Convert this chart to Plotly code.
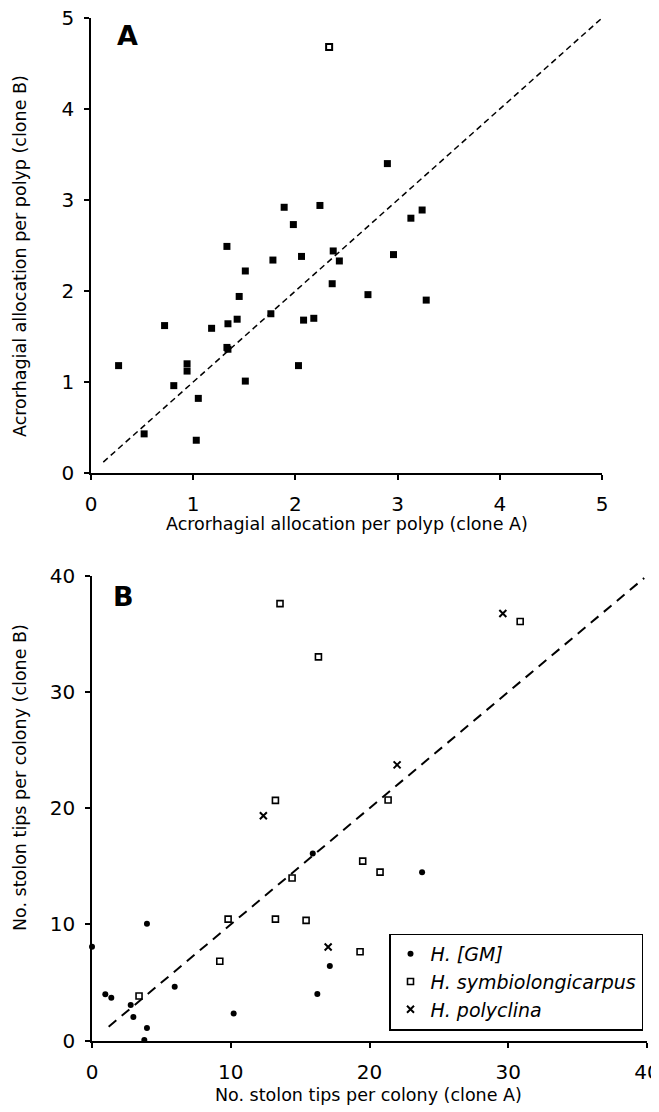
import plotly.graph_objects as go

# Browser page has an 8px body margin; size the figure to fit and offset coordinates.
PAGE_MARGIN = 8
W, H = 659 - PAGE_MARGIN, 1112 - PAGE_MARGIN

# ---------------- Panel A data ----------------
a_clone_a = [0.27, 0.52, 0.72, 0.81, 0.94, 0.94, 1.05, 1.03, 1.18, 1.33, 1.34, 1.34, 1.43, 1.45,
             1.51, 1.51, 1.76, 1.78, 2.03, 2.06, 2.08, 2.18, 1.33, 1.89, 1.98, 2.24, 2.90, 3.24,
             3.13, 2.37, 2.43, 2.96, 2.36, 2.71, 3.28]
a_clone_b = [1.18, 0.43, 1.62, 0.96, 1.20, 1.12, 0.82, 0.36, 1.59, 1.38, 1.36, 1.64, 1.69, 1.94,
             2.22, 1.01, 1.75, 2.34, 1.18, 2.38, 1.68, 1.70, 2.49, 2.92, 2.73, 2.94, 3.40, 2.89,
             2.80, 2.44, 2.33, 2.40, 2.08, 1.96, 1.90]
a_open_x = [2.33]
a_open_y = [4.68]
a_line_x = [0.12, 5.0]
a_line_y = [0.12, 5.0]
a_ticks = [0, 1, 2, 3, 4, 5]

# ---------------- Panel B data ----------------
gm_x = [0, 0.96, 1.39, 2.79, 2.98, 3.96, 3.96, 3.77, 5.96, 10.21, 15.91, 16.24, 17.14, 23.79]
gm_y = [8.08, 4.0, 3.70, 3.07, 2.04, 10.06, 1.09, 0.06, 4.64, 2.35, 16.11, 4.01, 6.42, 14.5]
sym_x = [3.39, 9.21, 9.81, 13.22, 14.42, 15.43, 19.51, 20.76, 19.32, 13.55, 16.32, 13.22, 30.86, 21.34]
sym_y = [3.84, 6.83, 10.46, 10.46, 13.99, 10.35, 15.45, 14.5, 7.65, 37.6, 33.02, 20.67, 36.06, 20.7]
poly_x = [12.35, 29.61, 21.99, 17.02]
poly_y = [19.35, 36.75, 23.73, 8.06]
b_line_x = [1.2, 39.8]
b_line_y = [1.2, 39.8]
b_ticks = [0, 10, 20, 30, 40]

FONT = "DejaVu Sans"

fig = go.Figure()

# Panel A
fig.add_trace(go.Scatter(x=a_line_x, y=a_line_y, mode="lines", xaxis="x", yaxis="y",
                         line=dict(color="black", width=1.5, dash="6px,4px"), showlegend=False,
                         hoverinfo="skip"))
fig.add_trace(go.Scatter(x=a_clone_a, y=a_clone_b, mode="markers", xaxis="x", yaxis="y",
                         marker=dict(symbol="square", size=7, color="black"), showlegend=False,
                         cliponaxis=False))
fig.add_trace(go.Scatter(x=a_open_x, y=a_open_y, mode="markers", xaxis="x", yaxis="y",
                         marker=dict(symbol="square-open", size=6, color="black", line=dict(width=2)),
                         showlegend=False, cliponaxis=False))

# Panel B
fig.add_trace(go.Scatter(x=b_line_x, y=b_line_y, mode="lines", xaxis="x2", yaxis="y2",
                         line=dict(color="black", width=2, dash="10px,7px"), showlegend=False,
                         hoverinfo="skip"))
fig.add_trace(go.Scatter(x=gm_x, y=gm_y, mode="markers", xaxis="x2", yaxis="y2", name="<i>H. [GM]</i>",
                         marker=dict(symbol="circle", size=6, color="black"), cliponaxis=False))
fig.add_trace(go.Scatter(x=sym_x, y=sym_y, mode="markers", xaxis="x2", yaxis="y2",
                         name="<i>H. symbiolongicarpus</i>",
                         marker=dict(symbol="square-open", size=6, color="black", line=dict(width=1.6)),
                         cliponaxis=False))
fig.add_trace(go.Scatter(x=poly_x, y=poly_y, mode="markers", xaxis="x2", yaxis="y2",
                         name="<i>H. polyclina</i>",
                         marker=dict(symbol="x-thin", size=7, color="black", line=dict(width=2, color="black")),
                         cliponaxis=False))


def px_x(p):
    return (p - PAGE_MARGIN) / W


def px_y(p):
    return 1 - (p - PAGE_MARGIN) / H


axis_common = dict(showgrid=False, zeroline=False, showline=True, linecolor="black", linewidth=1.6,
                   ticks="outside", ticklen=5, tickwidth=1.6, tickcolor="black", automargin=False,
                   ticklabeloverflow="allow",
                   tickfont=dict(family=FONT, size=20, color="black"), fixedrange=True)

fig.update_layout(
    width=W, height=H,
    margin=dict(l=0, r=0, t=0, b=0, autoexpand=False),
    paper_bgcolor="white", plot_bgcolor="white",
    font=dict(family=FONT, color="black"),
    xaxis=dict(**axis_common, domain=[px_x(91), px_x(602)], range=[0, 5], tickvals=a_ticks,
               anchor="y", ticklabelstandoff=7),
    yaxis=dict(**axis_common, domain=[px_y(473), px_y(18)], range=[0, 5], tickvals=a_ticks,
               anchor="x", ticklabelstandoff=6),
    xaxis2=dict(**axis_common, domain=[px_x(92), px_x(647)], range=[0, 40], tickvals=b_ticks,
                anchor="y2", ticklabelstandoff=7),
    yaxis2=dict(**axis_common, domain=[px_y(1040.7), px_y(575.7)], range=[0, 40], tickvals=b_ticks,
                anchor="x2", ticklabelstandoff=6),
    showlegend=True,
    legend=dict(x=px_x(389), y=px_y(982), xanchor="left", yanchor="middle",
                bordercolor="black", borderwidth=1.5, bgcolor="white",
                font=dict(family=FONT, size=19, color="black"), tracegroupgap=0),
)

title_font = dict(family=FONT, size=17.5, color="black")
annotations = [
    dict(text="Acrorhagial allocation per polyp (clone A)", x=px_x(347), y=px_y(524),
         xref="paper", yref="paper", showarrow=False, font=title_font, xanchor="center", yanchor="middle"),
    dict(text="Acrorhagial allocation per polyp (clone B)", x=px_x(20), y=px_y(256),
         xref="paper", yref="paper", showarrow=False, font=title_font, textangle=-90,
         xanchor="center", yanchor="middle"),
    dict(text="No. stolon tips per colony (clone A)", x=px_x(368), y=px_y(1095),
         xref="paper", yref="paper", showarrow=False, font=title_font, xanchor="center", yanchor="middle"),
    dict(text="No. stolon tips per colony (clone B)", x=px_x(20), y=px_y(778),
         xref="paper", yref="paper", showarrow=False, font=title_font, textangle=-90,
         xanchor="center", yanchor="middle"),
    dict(text="<b>A</b>", x=px_x(127.5), y=px_y(35), xref="paper", yref="paper", showarrow=False,
         font=dict(family=FONT, size=27, color="black"), xanchor="center", yanchor="middle"),
    dict(text="<b>B</b>", x=px_x(123), y=px_y(596), xref="paper", yref="paper", showarrow=False,
         font=dict(family=FONT, size=27, color="black"), xanchor="center", yanchor="middle"),
]
fig.update_layout(annotations=annotations)

fig.write_html("out.html")
